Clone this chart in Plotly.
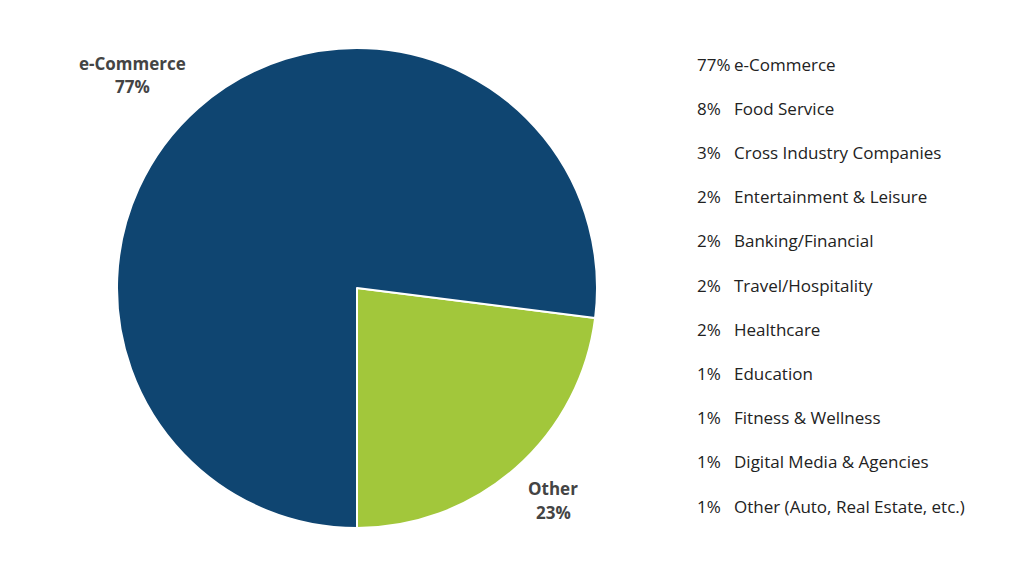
import plotly.graph_objects as go

# Pie data
pie_labels = ["Other", "e-Commerce"]
pie_values = [23, 77]
pie_colors = ["#A2C73B", "#0F4571"]

# Legend list data
list_pcts = [77, 8, 3, 2, 2, 2, 2, 1, 1, 1, 1]
list_names = ["e-Commerce", "Food Service", "Cross Industry Companies",
              "Entertainment & Leisure", "Banking/Financial", "Travel/Hospitality",
              "Healthcare", "Education", "Fitness & Wellness",
              "Digital Media & Agencies", "Other (Auto, Real Estate, etc.)"]

W, H = 1024, 576
cx, cy, r = 357, 288, 240

# "Other" ends at 6 o'clock, drawn clockwise
start_angle = 180 - 360 * pie_values[0] / sum(pie_values)

fig = go.Figure()
fig.add_trace(go.Pie(
    labels=pie_labels, values=pie_values, sort=False, direction="clockwise",
    rotation=start_angle,
    marker=dict(colors=pie_colors, line=dict(color="white", width=2)),
    textinfo="none", hoverinfo="label+percent", showlegend=False,
    domain=dict(x=[(cx - r) / W, (cx + r) / W], y=[1 - (cy + r) / H, 1 - (cy - r) / H]),
))

font_family = "Open Sans"
annotations = []
# slice labels (two lines each)
slice_label_pos = {"e-Commerce": (132, 63), "Other": (553, 488)}
for lab, val in zip(pie_labels, pie_values):
    px, py = slice_label_pos[lab]
    for k, line in enumerate([lab, f"{val}%"]):
        annotations.append(dict(
            x=px / W, y=1 - (py + 24 * k) / H, xref="paper", yref="paper",
            text=f"<b>{line}</b>", showarrow=False,
            font=dict(family=font_family, size=17, color="#444444"),
            xanchor="center", yanchor="middle", align="center"))

# right-hand list
y0, dy = 64, 44.2
for i, (p, n) in enumerate(zip(list_pcts, list_names)):
    yy = 1 - (y0 + i * dy) / H
    annotations.append(dict(x=695 / W, y=yy, xref="paper", yref="paper",
                            text=f"{p}%", showarrow=False, xanchor="left", yanchor="middle",
                            font=dict(family=font_family, size=17, color="#222222")))
    annotations.append(dict(x=732 / W, y=yy, xref="paper", yref="paper",
                            text=n, showarrow=False, xanchor="left", yanchor="middle",
                            font=dict(family=font_family, size=17, color="#222222")))

fig.update_layout(
    width=W, height=H, margin=dict(l=0, r=0, t=0, b=0),
    paper_bgcolor="white", plot_bgcolor="white",
    annotations=annotations,
)
fig.write_html("out.html")
